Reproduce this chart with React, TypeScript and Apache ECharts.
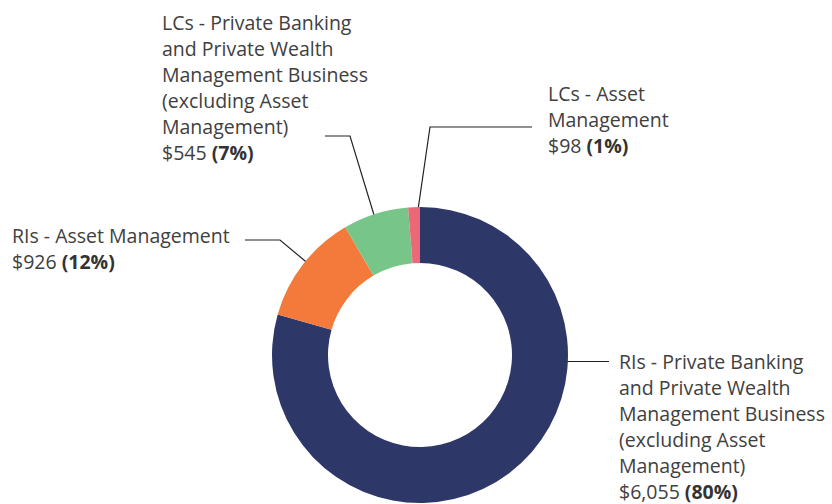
import React, { useEffect, useRef } from "react";
import * as echarts from "echarts";

const categories = [
  "RIs - Private Banking\nand Private Wealth\nManagement Business\n(excluding Asset\nManagement)",
  "RIs - Asset Management",
  "LCs - Private Banking\nand Private Wealth\nManagement Business\n(excluding Asset\nManagement)",
  "LCs - Asset\nManagement",
];
const values = [6055, 926, 545, 98];
const valueLabels = ["$6,055", "$926", "$545", "$98"];
const percentLabels = ["80%", "12%", "7%", "1%"];
const colors = ["#2E3868", "#F37A3A", "#78C589", "#EB6878"];

// label placement (style only)
const labelPos = [
  { x: 619, y: 348.5, line: [[550, 361.5], [580, 361.5], [609, 361.5]] },
  { x: 12, y: 222.5, line: [[329, 281], [280, 240], [245, 240]] },
  { x: 162, y: 9, line: [[381, 238], [350, 136], [325, 136]] },
  { x: 548, y: 80.5, line: [[415.5, 227], [430, 127], [532, 127]] },
];

export default function App() {
  const ref = useRef<HTMLDivElement>(null);
  useEffect(() => {
    if (!ref.current) return;
    const chart = echarts.init(ref.current, undefined, { renderer: "svg" });
    chart.setOption({
      animation: false,
      backgroundColor: "#ffffff",
      series: [
        {
          type: "pie",
          center: [420, 355],
          radius: [92, 148],
          startAngle: 90,
          clockwise: true,
          avoidLabelOverlap: false,
          emphasis: { disabled: true },
          silent: true,
          data: categories.map((name, i) => ({
            name,
            value: values[i],
            itemStyle: { color: colors[i] },
          })),
          label: {
            show: true,
            position: "outside",
            formatter: (p: any) =>
              `${p.name}\n${valueLabels[p.dataIndex]} {b|(${percentLabels[p.dataIndex]})}`,
            fontFamily: "Open Sans",
            fontSize: 19.5,
            lineHeight: 26,
            color: "#404040",
            align: "left",
            rich: {
              b: {
                fontFamily: "Open Sans",
                fontSize: 19.5,
                lineHeight: 26,
                fontWeight: "bold",
                color: "#333333",
              },
            },
          },
          labelLine: {
            show: true,
            lineStyle: { color: "#222222", width: 1.2 },
          },
          labelLayout: (params: any) => {
            const p = labelPos[params.dataIndex];
            return {
              x: p.x,
              y: p.y,
              align: "left",
              verticalAlign: "top",
              labelLinePoints: p.line,
            };
          },
        },
      ],
    });
    return () => chart.dispose();
  }, []);
  return (
    <div
      ref={ref}
      style={{ position: "fixed", left: 0, top: 0, width: 832, height: 504 }}
    />
  );
}
